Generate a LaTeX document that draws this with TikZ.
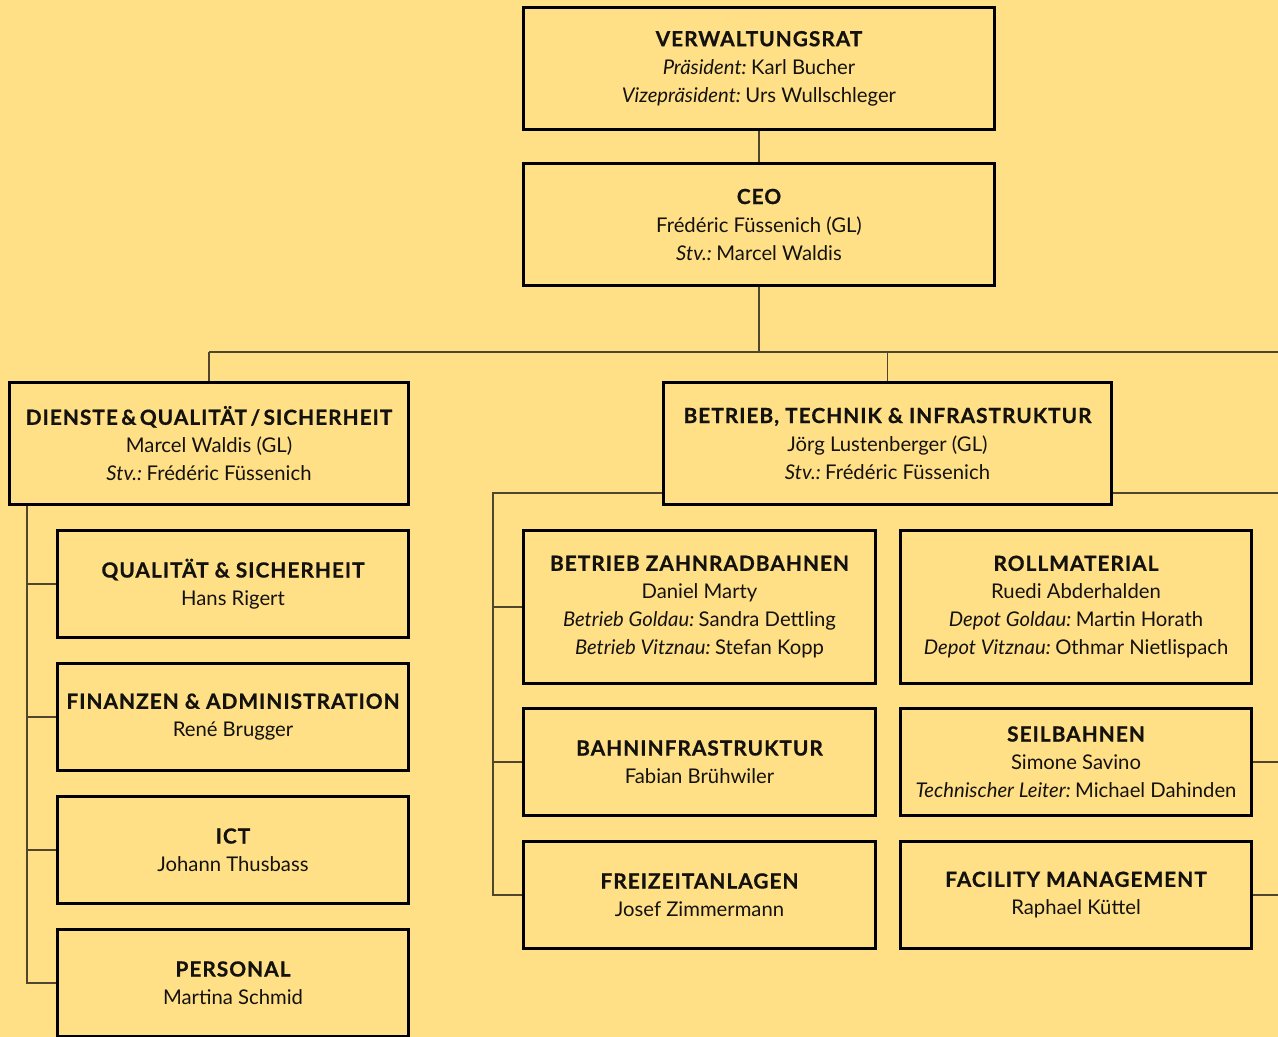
\documentclass[tikz,border=0pt]{standalone}
\usepackage{fontspec}
\setmainfont{Lato}
\newfontfamily\titlefont{Lato}[LetterSpace=5, BoldFeatures={FakeBold=0.8}]
\definecolor{bg}{RGB}{255,224,135}
\definecolor{ink}{RGB}{20,18,14}
\definecolor{linec}{RGB}{80,70,45}
\newcommand\ttl[1]{{\titlefont\bfseries\fontsize{15.6}{21}\selectfont #1}}
\newcommand\lbl[1]{\textit{#1}\hspace{0.22em}}
\begin{document}
\begin{tikzpicture}[x=0.75pt,y=-0.75pt,
  box/.style={draw=black, line width=2.25pt, inner sep=0pt, align=center,
    font=\fontsize{15.2}{21}\selectfont, text=ink},
  big/.style={box, minimum width=471*0.75pt, minimum height=122*0.75pt},
  small/.style={box, minimum width=351*0.75pt, minimum height=107*0.75pt},
  four/.style={box, minimum width=351*0.75pt, minimum height=153*0.75pt},
  conn/.style={draw=linec, line width=1.1pt}]
\fill[bg] (0,0) rectangle (1278,1037);
\useasboundingbox (0,0) rectangle (1278,1037);

\node[big] (vr) at (759,68.5) {\ttl{VERWALTUNGSRAT}\\\lbl{Präsident:}Karl Bucher\\\lbl{Vizepräsident:}Urs Wullschleger};
\node[big] (ceo) at (759,224.5) {\ttl{CEO}\\Frédéric Füssenich (GL)\\\lbl{Stv.:}Marcel Waldis};
\node[big, minimum width=399*0.75pt] (dq) at (209,443.5) {\ttl{DIENSTE\,\&\,QUALITÄT\,/\,SICHERHEIT}\\Marcel Waldis (GL)\\\lbl{Stv.:}Frédéric Füssenich};
\node[big, minimum width=448*0.75pt] (bti) at (887.5,443.5) {\ttl{BETRIEB, TECHNIK \& INFRASTRUKTUR}\\Jörg Lustenberger (GL)\\\lbl{Stv.:}Frédéric Füssenich};

\node[small] (qs) at (233,584) {\ttl{QUALITÄT \& SICHERHEIT}\\Hans Rigert};
\node[small] (fa) at (233,717) {\ttl{FINANZEN \& ADMINISTRATION}\\René Brugger};
\node[small] (ict) at (233,850) {\ttl{ICT}\\Johann Thusbass};
\node[small] (pers) at (233,983) {\ttl{PERSONAL}\\Martina Schmid};

\node[four, minimum width=352*0.75pt] (bz) at (699.5,607) {\ttl{BETRIEB ZAHNRADBAHNEN}\\Daniel Marty\\\lbl{Betrieb Goldau:}Sandra Dettling\\\lbl{Betrieb Vitznau:}Stefan Kopp};
\node[four] (rm) at (1076,607) {\ttl{ROLLMATERIAL}\\Ruedi Abderhalden\\\lbl{Depot Goldau:}Martin Horath\\\lbl{Depot Vitznau:}Othmar Nietlispach};
\node[small, minimum width=352*0.75pt] (bi) at (699.5,762) {\ttl{BAHNINFRASTRUKTUR}\\Fabian Brühwiler};
\node[small] (sb) at (1076,762) {\ttl{SEILBAHNEN}\\Simone Savino\\\lbl{Technischer Leiter:}Michael Dahinden};
\node[small, minimum width=352*0.75pt] (fz) at (699.5,895) {\ttl{FREIZEITANLAGEN}\\Josef Zimmermann};
\node[small] (fm) at (1076,895) {\ttl{FACILITY MANAGEMENT}\\Raphael Küttel};

\coordinate (busL) at (209,352);
\coordinate (busR) at (1278,352);
\coordinate (lt) at (27,506);
\coordinate (rt) at (493,493);
\coordinate (re) at (1278,493);

\draw[conn] (vr.south) -- (ceo.north);
\draw[conn] (ceo.south) -- (ceo.south |- busL);
\draw[conn] (busL) -- (busR);
\draw[conn] (busL) -- (dq.north);
\draw[conn] (bti.north) -- (bti.north |- busL);

\draw[conn] (lt) |- (pers.west);
\draw[conn] (lt |- qs.west) -- (qs.west);
\draw[conn] (lt |- fa.west) -- (fa.west);
\draw[conn] (lt |- ict.west) -- (ict.west);

\draw[conn] (rt -| bti.west) -- (rt) |- (fz.west);
\draw[conn] (rt |- bz.west) -- (bz.west);
\draw[conn] (rt |- bi.west) -- (bi.west);

\draw[conn] (rt -| bti.east) -- (re);
\draw[conn] (sb.east) -- (sb.east -| re);
\draw[conn] (fm.east) -- (fm.east -| re);
\end{tikzpicture}
\end{document}
